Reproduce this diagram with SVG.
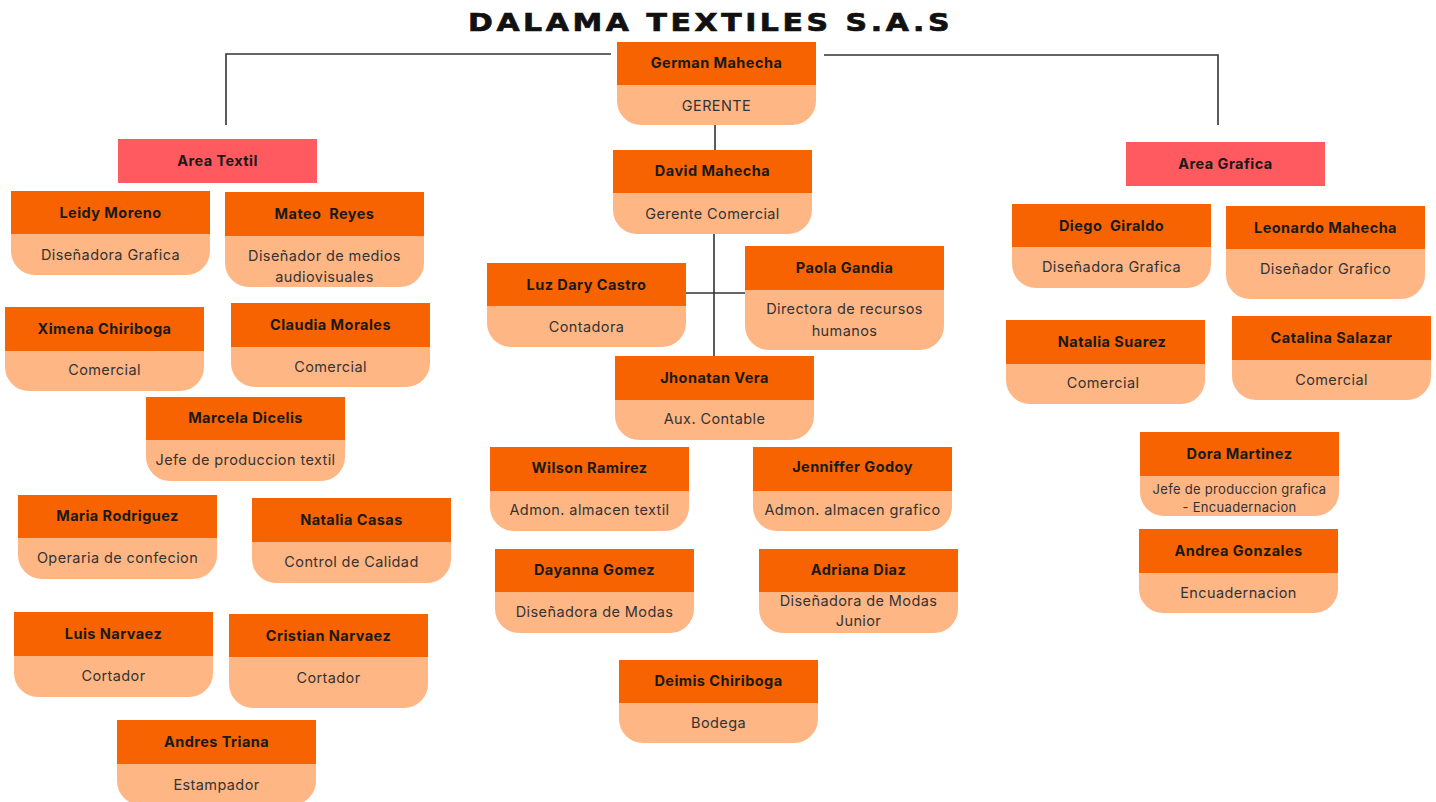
<svg xmlns="http://www.w3.org/2000/svg" width="1436" height="802" viewBox="0 0 1436 802">
<style>
.hd{fill:#F76300}
.bt{fill:#FFB685}
.area{fill:#FF5A5F}
.nm{font-family:Inter,"Noto Sans",sans-serif;font-weight:700;font-size:14.5px;letter-spacing:0.45px;fill:#1a1a1a;text-anchor:middle}
.rl{font-family:Inter,"Noto Sans",sans-serif;font-weight:400;font-size:14.5px;letter-spacing:0.4px;fill:#333;text-anchor:middle}
.sm{font-size:13px;letter-spacing:0.3px}
.ln{stroke:#333;stroke-width:1.6;fill:none}
.title{font-family:"DejaVu Sans",sans-serif;font-weight:700;font-size:25px;letter-spacing:3px;fill:#111;stroke:#111;stroke-width:0.7}
</style>
<rect width="1436" height="802" fill="#fff"/>
<text class="title" x="468" y="31" textLength="485" lengthAdjust="spacingAndGlyphs">DALAMA TEXTILES S.A.S</text>
<g id="connectors">
<path class="ln" d="M226 125 V54 H611"/>
<path class="ln" d="M824 55 H1218 V125"/>
<path class="ln" d="M715 125 V150"/>
<path class="ln" d="M714 234 V356"/>
<path class="ln" d="M686 293 H745"/>
</g>
<g id="german" transform="translate(617,42)"><path class="bt" d="M0 43H199V59A24 24 0 0 1 175 83H24A24 24 0 0 1 0 59Z"/><rect class="hd" width="199" height="43"/><text class="nm" x="99.5" y="26">German Mahecha</text><text class="rl" x="99.5" y="69">GERENTE</text></g>
<g id="david" transform="translate(613,150)"><path class="bt" d="M0 43H199V60A24 24 0 0 1 175 84H24A24 24 0 0 1 0 60Z"/><rect class="hd" width="199" height="43"/><text class="nm" x="99.5" y="26">David Mahecha</text><text class="rl" x="99.5" y="69">Gerente Comercial</text></g>
<g id="luz" transform="translate(487,263)"><path class="bt" d="M0 43H199V60A24 24 0 0 1 175 84H24A24 24 0 0 1 0 60Z"/><rect class="hd" width="199" height="43"/><text class="nm" x="99.5" y="27">Luz Dary Castro</text><text class="rl" x="99.5" y="69">Contadora</text></g>
<g id="paola" transform="translate(745,246)"><path class="bt" d="M0 44H199V80A24 24 0 0 1 175 104H24A24 24 0 0 1 0 80Z"/><rect class="hd" width="199" height="44"/><text class="nm" x="99.5" y="27">Paola Gandia</text><text class="rl" x="99.5" y="68">Directora de recursos</text><text class="rl" x="99.5" y="90">humanos</text></g>
<g id="jhonatan" transform="translate(615,356)"><path class="bt" d="M0 44H199V60A24 24 0 0 1 175 84H24A24 24 0 0 1 0 60Z"/><rect class="hd" width="199" height="44"/><text class="nm" x="99.5" y="27">Jhonatan Vera</text><text class="rl" x="99.5" y="68">Aux. Contable</text></g>
<g id="wilson" transform="translate(490,447)"><path class="bt" d="M0 44H199V60A24 24 0 0 1 175 84H24A24 24 0 0 1 0 60Z"/><rect class="hd" width="199" height="44"/><text class="nm" x="99.5" y="26">Wilson Ramirez</text><text class="rl" x="99.5" y="68">Admon. almacen textil</text></g>
<g id="jenniffer" transform="translate(753,447)"><path class="bt" d="M0 44H199V60A24 24 0 0 1 175 84H24A24 24 0 0 1 0 60Z"/><rect class="hd" width="199" height="44"/><text class="nm" x="99.5" y="25">Jenniffer Godoy</text><text class="rl" x="99.5" y="68">Admon. almacen grafico</text></g>
<g id="dayanna" transform="translate(495,549)"><path class="bt" d="M0 43H199V60A24 24 0 0 1 175 84H24A24 24 0 0 1 0 60Z"/><rect class="hd" width="199" height="43"/><text class="nm" x="99.5" y="26">Dayanna Gomez</text><text class="rl" x="99.5" y="68">Diseñadora de Modas</text></g>
<g id="adriana" transform="translate(759,549)"><path class="bt" d="M0 43H199V60A24 24 0 0 1 175 84H24A24 24 0 0 1 0 60Z"/><rect class="hd" width="199" height="43"/><text class="nm" x="99.5" y="26">Adriana Diaz</text><text class="rl" x="99.5" y="57">Diseñadora de Modas</text><text class="rl" x="99.5" y="77">Junior</text></g>
<g id="deimis" transform="translate(619,660)"><path class="bt" d="M0 43H199V59A24 24 0 0 1 175 83H24A24 24 0 0 1 0 59Z"/><rect class="hd" width="199" height="43"/><text class="nm" x="99.5" y="26">Deimis Chiriboga</text><text class="rl" x="99.5" y="68">Bodega</text></g>
<g id="area-textil"><rect class="area" x="118" y="139" width="199" height="44"/><text class="nm" x="217.5" y="166">Area Textil</text></g>
<g id="leidy" transform="translate(11,191)"><path class="bt" d="M0 43H199V60A24 24 0 0 1 175 84H24A24 24 0 0 1 0 60Z"/><rect class="hd" width="199" height="43"/><text class="nm" x="99.5" y="27">Leidy Moreno</text><text class="rl" x="99.5" y="69">Diseñadora Grafica</text></g>
<g id="mateo" transform="translate(225,192)"><path class="bt" d="M0 44H199V71A24 24 0 0 1 175 95H24A24 24 0 0 1 0 71Z"/><rect class="hd" width="199" height="44"/><text class="nm" x="99.5" y="27" xml:space="preserve">Mateo  Reyes</text><text class="rl" x="99.5" y="69">Diseñador de medios</text><text class="rl" x="99.5" y="90">audiovisuales</text></g>
<g id="ximena" transform="translate(5,307)"><path class="bt" d="M0 44H199V60A24 24 0 0 1 175 84H24A24 24 0 0 1 0 60Z"/><rect class="hd" width="199" height="44"/><text class="nm" x="99.5" y="27">Ximena Chiriboga</text><text class="rl" x="99.5" y="68">Comercial</text></g>
<g id="claudia" transform="translate(231,303)"><path class="bt" d="M0 44H199V60A24 24 0 0 1 175 84H24A24 24 0 0 1 0 60Z"/><rect class="hd" width="199" height="44"/><text class="nm" x="99.5" y="27">Claudia Morales</text><text class="rl" x="99.5" y="69">Comercial</text></g>
<g id="marcela" transform="translate(146,397)"><path class="bt" d="M0 43H199V60A24 24 0 0 1 175 84H24A24 24 0 0 1 0 60Z"/><rect class="hd" width="199" height="43"/><text class="nm" x="99.5" y="26">Marcela Dicelis</text><text class="rl" x="99.5" y="68">Jefe de produccion textil</text></g>
<g id="maria" transform="translate(18,495)"><path class="bt" d="M0 43H199V60A24 24 0 0 1 175 84H24A24 24 0 0 1 0 60Z"/><rect class="hd" width="199" height="43"/><text class="nm" x="99.5" y="26">Maria Rodriguez</text><text class="rl" x="99.5" y="68">Operaria de confecion</text></g>
<g id="natalia-casas" transform="translate(252,498)"><path class="bt" d="M0 44H199V61A24 24 0 0 1 175 85H24A24 24 0 0 1 0 61Z"/><rect class="hd" width="199" height="44"/><text class="nm" x="99.5" y="27">Natalia Casas</text><text class="rl" x="99.5" y="69">Control de Calidad</text></g>
<g id="luis" transform="translate(14,612)"><path class="bt" d="M0 44H199V61A24 24 0 0 1 175 85H24A24 24 0 0 1 0 61Z"/><rect class="hd" width="199" height="44"/><text class="nm" x="99.5" y="27">Luis Narvaez</text><text class="rl" x="99.5" y="69">Cortador</text></g>
<g id="cristian" transform="translate(229,614)"><path class="bt" d="M0 43H199V70A24 24 0 0 1 175 94H24A24 24 0 0 1 0 70Z"/><rect class="hd" width="199" height="43"/><text class="nm" x="99.5" y="27">Cristian Narvaez</text><text class="rl" x="99.5" y="69">Cortador</text></g>
<g id="andres" transform="translate(117,720)"><path class="bt" d="M0 44H199V61A24 24 0 0 1 175 85H24A24 24 0 0 1 0 61Z"/><rect class="hd" width="199" height="44"/><text class="nm" x="99.5" y="27">Andres Triana</text><text class="rl" x="99.5" y="70">Estampador</text></g>
<g id="area-grafica"><rect class="area" x="1126" y="142" width="199" height="44"/><text class="nm" x="1225.5" y="169">Area Grafica</text></g>
<g id="diego" transform="translate(1012,204)"><path class="bt" d="M0 43H199V60A24 24 0 0 1 175 84H24A24 24 0 0 1 0 60Z"/><rect class="hd" width="199" height="43"/><text class="nm" x="99.5" y="27" xml:space="preserve">Diego  Giraldo</text><text class="rl" x="99.5" y="68">Diseñadora Grafica</text></g>
<g id="leonardo" transform="translate(1226,206)"><path class="bt" d="M0 43H199V69A24 24 0 0 1 175 93H24A24 24 0 0 1 0 69Z"/><rect class="hd" width="199" height="43"/><text class="nm" x="99.5" y="27">Leonardo Mahecha</text><text class="rl" x="99.5" y="68">Diseñador Grafico</text></g>
<g id="natalia-suarez" transform="translate(1006,320)"><path class="bt" d="M0 44H199V60A24 24 0 0 1 175 84H24A24 24 0 0 1 0 60Z"/><rect class="hd" width="199" height="44"/><text class="nm" x="106" y="27">Natalia Suarez</text><text class="rl" x="97" y="68">Comercial</text></g>
<g id="catalina" transform="translate(1232,316)"><path class="bt" d="M0 44H199V60A24 24 0 0 1 175 84H24A24 24 0 0 1 0 60Z"/><rect class="hd" width="199" height="44"/><text class="nm" x="99.5" y="27">Catalina Salazar</text><text class="rl" x="99.5" y="69">Comercial</text></g>
<g id="dora" transform="translate(1140,432)"><path class="bt" d="M0 44H199V60A24 24 0 0 1 175 84H24A24 24 0 0 1 0 60Z"/><rect class="hd" width="199" height="44"/><text class="nm" x="99.5" y="27">Dora Martinez</text><text class="rl sm" x="99.5" y="62">Jefe de produccion grafica</text><text class="rl sm" x="99.5" y="80">- Encuadernacion</text></g>
<g id="andrea" transform="translate(1139,529)"><path class="bt" d="M0 44H199V60A24 24 0 0 1 175 84H24A24 24 0 0 1 0 60Z"/><rect class="hd" width="199" height="44"/><text class="nm" x="99.5" y="27">Andrea Gonzales</text><text class="rl" x="99.5" y="69">Encuadernacion</text></g>
</svg>
